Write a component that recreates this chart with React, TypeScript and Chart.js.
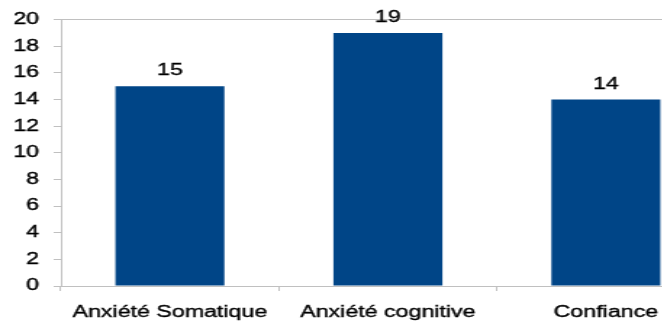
import React, { useEffect, useRef } from "react";
import { Chart, registerables } from "chart.js";

Chart.register(...registerables);

const categories = ["Anxiété Somatique", "Anxiété cognitive", "Confiance"];
const scores = [15, 19, 14];
const yTicks = [0, 2, 4, 6, 8, 10, 12, 14, 16, 18, 20];

const BAR_COLOR = "#004587";
const AXIS_COLOR = "#c0c0c0";
const TEXT_COLOR = "#000";
const FONT_FAMILY = "'Liberation Sans', Arial, sans-serif";

// The chart is laid out narrow and widened horizontally as a whole.
const STRETCH_X = 1.45;
const CANVAS_W = 497;
const CANVAS_H = 325;

const valueLabels = {
  id: "valueLabels",
  afterDatasetsDraw(chart: any) {
    const { ctx } = chart;
    const meta = chart.getDatasetMeta(0);
    ctx.save();
    ctx.font = `16px ${FONT_FAMILY}`;
    ctx.fillStyle = TEXT_COLOR;
    ctx.strokeStyle = TEXT_COLOR;
    ctx.lineWidth = 0.35;
    ctx.textAlign = "center";
    ctx.textBaseline = "alphabetic";
    meta.data.forEach((bar: any, i: number) => {
      ctx.fillText(String(scores[i]), bar.x, bar.y - 11);
      ctx.strokeText(String(scores[i]), bar.x, bar.y - 11);
    });
    ctx.restore();
  },
};

export default function App() {
  const canvasRef = useRef<HTMLCanvasElement | null>(null);

  useEffect(() => {
    document.body.style.margin = "0";
    document.body.style.overflow = "hidden";
    const canvas = canvasRef.current;
    if (!canvas) return;
    const chart = new Chart(canvas, {
      type: "bar",
      data: {
        labels: categories,
        datasets: [
          {
            data: scores,
            backgroundColor: BAR_COLOR,
            borderWidth: 0,
            categoryPercentage: 1,
            barPercentage: 0.5,
          },
        ],
      },
      options: {
        animation: false,
        responsive: false,
        devicePixelRatio: 1,
        layout: { padding: { top: 18, right: 4, bottom: 0, left: 0 } },
        plugins: {
          legend: { display: false },
          tooltip: { enabled: false },
        },
        scales: {
          x: {
            offset: true,
            grid: {
              offset: true,
              drawOnChartArea: false,
              drawTicks: true,
              tickLength: 5,
              tickColor: AXIS_COLOR,
            },
            border: { color: AXIS_COLOR, width: 1 },
            ticks: {
              padding: 12,
              color: TEXT_COLOR,
              textStrokeColor: TEXT_COLOR,
              textStrokeWidth: 0.35,
              maxRotation: 0,
              autoSkip: false,
              font: { family: FONT_FAMILY, size: 16 },
            },
            afterFit: (s: any) => {
              s.height = 39;
            },
          },
          y: {
            min: 0,
            max: 20,
            afterBuildTicks: (s: any) => {
              s.ticks = yTicks.map((v) => ({ value: v }));
            },
            grid: {
              color: (c: any) =>
                c.tick && c.tick.value === 20 ? AXIS_COLOR : "rgba(0,0,0,0)",
              tickColor: AXIS_COLOR,
              tickLength: 5,
            },
            border: { color: AXIS_COLOR, width: 1 },
            ticks: {
              padding: 10,
              color: TEXT_COLOR,
              textStrokeColor: TEXT_COLOR,
              textStrokeWidth: 0.35,
              font: { family: FONT_FAMILY, size: 16 },
            },
            afterFit: (s: any) => {
              s.width = 42;
            },
          },
        },
      },
      plugins: [valueLabels],
    });
    return () => chart.destroy();
  }, []);

  return (
    <div style={{ width: 662, height: CANVAS_H, overflow: "hidden", background: "#fff" }}>
      <div
        style={{
          width: CANVAS_W,
          height: CANVAS_H,
          transform: `scaleX(${STRETCH_X})`,
          transformOrigin: "0 0",
        }}
      >
        <canvas
          ref={canvasRef}
          width={CANVAS_W}
          height={CANVAS_H}
          style={{ display: "block", width: CANVAS_W, height: CANVAS_H }}
        />
      </div>
    </div>
  );
}
